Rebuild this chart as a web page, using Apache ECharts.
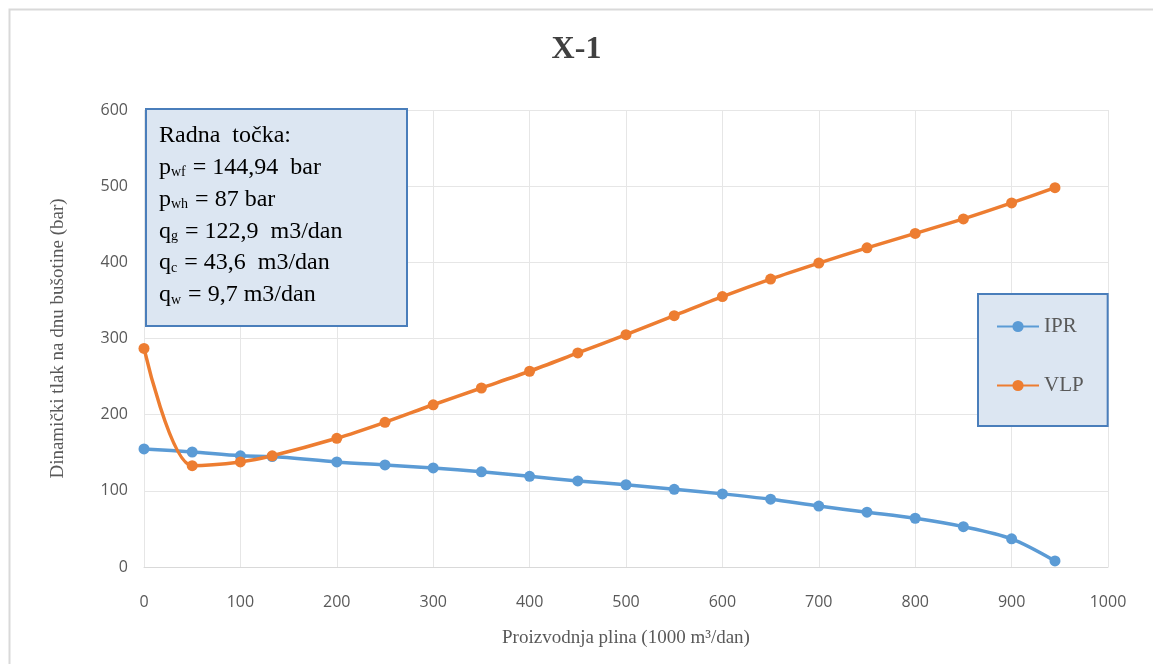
<!DOCTYPE html>
<html>
<head>
<meta charset="utf-8">
<script src="https://cdn.jsdelivr.net/npm/echarts@6/dist/echarts.min.js"></script>
<style>
html,body{margin:0;padding:0;background:#fff;}
#chart{width:1153px;height:664px;}
</style>
</head>
<body>
<div id="chart"></div>
<script>
const qIPR = [0, 50, 100, 133, 200, 250, 300, 350, 400, 450, 500, 550, 600, 650, 700, 750, 800, 850, 900, 945];
const pIPR = [155, 151, 146, 145, 138, 134, 130, 125, 119, 113, 108, 102, 96, 89, 80, 72, 64, 53, 37, 8];
const qVLP = [0, 50, 100, 133, 200, 250, 300, 350, 400, 450, 500, 550, 600, 650, 700, 750, 800, 850, 900, 945];
const pVLP = [287, 133, 138, 146, 169, 190, 213, 235, 257, 281, 305, 330, 355, 378, 399, 419, 438, 457, 478, 498];
const seriesNames = ['IPR', 'VLP'];
const titleText = 'X-1';
const xName = 'Proizvodnja plina (1000 m\u00B3/dan)';
const yName = 'Dinami\u010Dki tlak na dnu bu\u0161otine (bar)';
const noteLines = [
  ['Radna  to\u010Dka:', '', ''],
  ['p', 'wf', ' = 144,94  bar'],
  ['p', 'wh', ' = 87 bar'],
  ['q', 'g', ' = 122,9  m3/dan'],
  ['q', 'c', ' = 43,6  m3/dan'],
  ['q', 'w', ' = 9,7 m3/dan']
];

const chart = echarts.init(document.getElementById('chart'));
const serif = "'Liberation Serif', 'DejaVu Serif', serif";
const sans = "'Open Sans', 'Liberation Sans', sans-serif";
const gray = '#595959';

const noteText = noteLines.map(l => '{n|' + l[0] + '}' + (l[1] ? '{s|' + l[1] + '}' : '') + (l[2] ? '{n|' + l[2] + '}' : '')).join('\n');

const option = {
  backgroundColor: '#fff',
  animation: false,
  title: {
    text: titleText, left: 'center', top: 29,
    textStyle: {fontFamily: serif, fontSize: 32, fontWeight: 'bold', color: '#404040'}
  },
  grid: {left: 144, right: 45, top: 110, bottom: 97},
  legend: {
    orient: 'vertical', left: 978, top: 294,
    data: seriesNames,
    itemWidth: 42, itemHeight: 14, itemGap: 38,
    padding: [22, 24, 30, 18],
    backgroundColor: '#dce6f2', borderColor: '#4a7ebb', borderWidth: 2,
    textStyle: {fontFamily: serif, fontSize: 21, color: gray}
  },
  xAxis: {
    type: 'value', min: 0, max: 1000, interval: 100,
    name: xName, nameLocation: 'middle', nameGap: 62,
    nameTextStyle: {fontFamily: serif, fontSize: 19, color: gray},
    axisLine: {show: true, lineStyle: {color: '#d9d9d9', width: 1}},
    axisTick: {show: false},
    axisLabel: {fontFamily: sans, fontSize: 16, color: gray, margin: 27, formatter: v => String(v)},
    splitLine: {show: true, lineStyle: {color: '#e6e6e6', width: 1}}
  },
  yAxis: {
    type: 'value', min: 0, max: 600, interval: 100,
    name: yName, nameLocation: 'middle', nameGap: 76,
    nameTextStyle: {fontFamily: serif, fontSize: 19, color: gray},
    axisLine: {show: false},
    axisTick: {show: false},
    axisLabel: {fontFamily: sans, fontSize: 16, color: gray, margin: 16},
    splitLine: {show: true, lineStyle: {color: '#e6e6e6', width: 1}}
  },
  series: [
    {
      name: seriesNames[0], type: 'line', smooth: 0.3,
      data: qIPR.map((q, i) => [q, pIPR[i]]),
      symbol: 'circle', symbolSize: 11,
      lineStyle: {color: '#5b9bd5', width: 3.5},
      itemStyle: {color: '#5b9bd5'}
    },
    {
      name: seriesNames[1], type: 'line', smooth: 0.3,
      data: qVLP.map((q, i) => [q, pVLP[i]]),
      symbol: 'circle', symbolSize: 11,
      lineStyle: {color: '#ed7d31', width: 3.5},
      itemStyle: {color: '#ed7d31'}
    }
  ],
  graphic: [
    {
      type: 'rect', left: 7, top: 7, z: -10, silent: true,
      shape: {width: 1160, height: 670},
      style: {fill: 'none', stroke: '#d9d9d9', lineWidth: 2}
    },
    {
      type: 'rect', left: 145, top: 108, z: 100, silent: true,
      shape: {x: 0, y: 0, width: 261, height: 217},
      style: {fill: '#dce6f2', stroke: '#4a7ebb', lineWidth: 2}
    },
    {
      type: 'text', left: 159, top: 124, z: 101, silent: true,
      style: {
        text: noteText,
        rich: {
          n: {fontFamily: serif, fontSize: 24, color: '#000', lineHeight: 31.8, verticalAlign: 'bottom'},
          s: {fontFamily: serif, fontSize: 14, color: '#000', lineHeight: 29, verticalAlign: 'bottom', padding: [0, 1, 0, 0]}
        }
      }
    }
  ]
};
chart.setOption(option);
</script>
</body>
</html>
